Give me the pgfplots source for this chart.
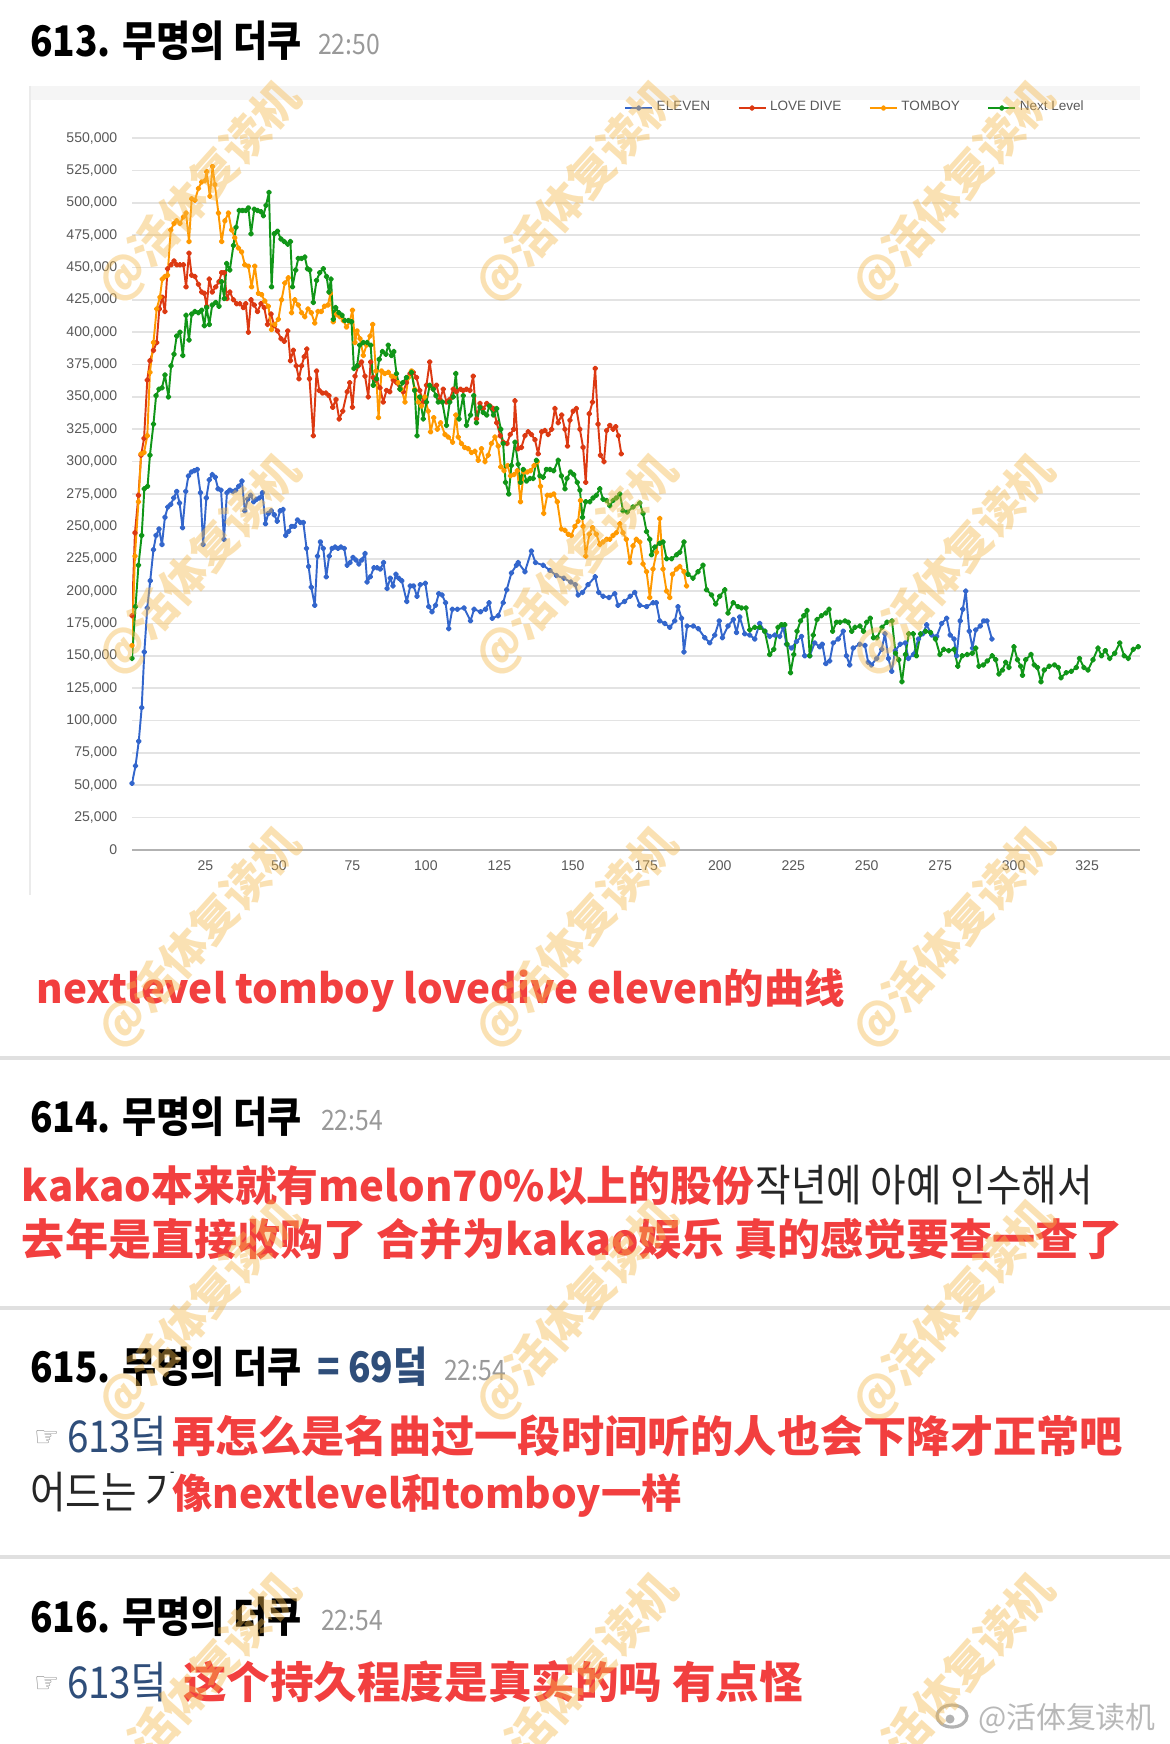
\documentclass[border=0pt]{standalone}
\usepackage{fontspec}
\usepackage{pgfplots}
\pgfplotsset{compat=1.18}
\setmainfont{Liberation Sans}
\newfontfamily\kr[FakeStretch=0.88]{Noto Sans CJK KR}
\newfontfamily\zh{Noto Sans CJK SC}
\newfontfamily\sym{DejaVu Sans}
\definecolor{cEleven}{HTML}{3366CC}
\definecolor{cLove}{HTML}{DC3912}
\definecolor{cTom}{HTML}{FF9900}
\definecolor{cNext}{HTML}{109618}
\definecolor{redtxt}{HTML}{F23F3F}
\definecolor{navy}{HTML}{2F4E7A}
\definecolor{wm}{HTML}{F5B94A}
\newcommand{\fs}[1]{\fontsize{#1}{#1}\selectfont}
\begin{document}
\begin{tikzpicture}
\path[use as bounding box, fill=white] (0,0) rectangle (117mm,-174.4mm);
\begin{scope}[x=0.1mm,y=-0.1mm]
\fill[black!4] (30,86) rectangle (1140,100);
\draw[black!8, line width=0.4pt] (30,86) -- (30,895);
\end{scope}
\begin{axis}[
 at={(13.2mm,-85mm)}, anchor=south west,
 scale only axis, width=100.8mm, height=71.2mm,
 xmin=0, xmax=343, ymin=0, ymax=550,
 axis line style={draw=none},
 ymajorgrids, grid style={draw=black!11, line width=0.45pt},
 major tick length=0pt,
 xtick={25,50,...,325},
 ytick={0,25,...,550},
 yticklabels={0,{25,000},{50,000},{75,000},{100,000},{125,000},{150,000},{175,000},{200,000},{225,000},{250,000},{275,000},{300,000},{325,000},{350,000},{375,000},{400,000},{425,000},{450,000},{475,000},{500,000},{525,000},{550,000}},
 tick label style={font=\fs{4}, text=black!65},
 /pgf/number format/assume math mode=true,
 yticklabel style={anchor=east, inner sep=0pt, xshift=-1.4mm},
 xticklabel style={anchor=north, inner sep=0pt, yshift=-1.0mm},
 every axis plot/.append style={line width=0.55pt, line join=round},
 legend style={at={(axis description cs:0.718,1.042)}, anchor=center, draw=none, fill=none,
   font=\fs{3.85}, text=black!65, legend columns=4,
   /tikz/every even column/.append style={column sep=2.4mm}, inner sep=0pt, nodes={inner sep=0.35mm}},
 legend image code/.code={\draw[#1, mark repeat=2, mark phase=2] plot coordinates {(0mm,0mm) (1.35mm,0mm) (2.7mm,0mm)};},
]
\draw[black!30, line width=0.6pt] (axis cs:0,0) -- (axis cs:343,0);
\addplot[cEleven, mark=*, mark size=0.55pt, mark options={solid}] coordinates {
(0,51.5)(1.2,65)(2.3,84)(3.3,110)(4.2,153)(5.2,187)(6.2,208)(7.3,232)(8.2,243)(9.2,248)(10.2,236)(11.2,257)(12.2,265)(13.2,267)(14.2,272)(15.2,277)(16.2,268)(17.2,249)(18.3,277)(19.2,289)(20.2,292)(21.2,293)(22.2,294)(23.3,276)(24.2,236)(25.3,272)(26.3,286)(27.3,290)(28.3,288)(29.3,279)(30.3,278)(31.3,240)(32.3,276)(33.3,278)(34.3,277)(35.3,278)(36.3,281)(37.4,285)(38.4,262)(39.4,271)(40.4,274)(41.4,269)(42.4,271)(43.4,272)(44.4,276)(45.4,252)(46.4,260)(47.4,262)(48.4,259)(49.4,254)(50.4,262)(51.4,263)(52.3,243)(53.3,246)(54.3,250)(55.3,250)(56.3,255)(57.3,253)(58.3,253)(59.4,233)(60.1,219)(61,203)(62.2,189)(63.1,227)(64.1,238)(65.1,233)(66.1,211)(67.1,227)(68.1,233)(69.1,234)(70.1,233)(71.1,234)(72.2,233)(73.2,220)(74.2,222)(75.2,226)(76.2,224)(77.2,221)(78.2,224)(79.3,229)(80,207)(81.1,211)(82.3,218)(83.4,218)(84.5,217)(85.6,222)(86.8,202)(87.9,210)(88.8,204)(89.8,213)(90.8,210)(91.8,208)(93.5,192)(94.7,204)(95.8,204)(97,196)(98.1,205)(99.8,206)(101,188)(102.1,184)(103.3,189)(104.4,198)(105.5,197)(106.7,191)(107.8,171)(109,186)(110.7,186)(113,187)(115.2,177)(116.4,186)(118.6,184)(120.3,186)(121.5,191)(122.6,179)(124.6,181)(126.3,191)(127.5,201)(129.1,214)(130.8,220)(131.4,222)(133.7,215)(135.9,231)(137.3,222)(139.9,220)(142.2,216)(144.4,212)(146.9,210)(149.3,207)(150.8,205)(151.8,197)(153.3,199)(155.2,205)(157.6,211)(158.8,199)(160.3,196)(162.3,195)(164.3,198)(165.4,189)(167.6,192)(169.5,196)(171.1,199)(172.8,189)(175.1,188)(177.3,191)(178.4,191)(179.6,177)(181.3,175)(183,172)(184.7,177)(185.8,188)(187,179)(187.8,153)(188.9,173)(191,173)(192.7,171)(194.9,164)(196.6,160)(198.3,166)(199.8,177)(200.9,164)(202.8,173)(204.6,178)(205.7,168)(206.8,180)(208.5,167)(210.2,166)(211.9,163)(213.6,175)(215.3,169)(217,165)(218.7,166)(220.4,165)(221.6,172)(222.7,159)(224.4,156)(226.1,161)(227.8,165)(228.9,150)(230.6,150)(232.3,160)(234,157)(234.9,159)(236.1,144)(237.4,146)(238.6,160)(240.3,163)(242,169)(243.1,150)(244.2,143)(245.4,156)(247.6,159)(249.4,158)(250.5,145)(251.6,143)(253.4,148)(255.1,155)(256.2,167)(257.4,148)(258.5,138)(259.7,154)(261.4,159)(263.1,160)(264.2,148)(265.9,151)(267.6,163)(269.1,167)(270.4,174)(272.1,166)(273.8,165)(275.5,175)(277.2,179)(278.4,166)(279.7,163)(280.6,150)(281.8,177)(282.7,186)(283.7,200)(284.9,169)(286,156)(287.1,170)(288.6,173)(289.8,177)(290.9,177)(292.6,163)};
\addlegendentry{ELEVEN}
\addplot[cLove, mark=*, mark size=0.55pt, mark options={solid}] coordinates {
(0,181)(1.0,245)(2.2,274)(3.1,305)(4.1,318)(5.2,363)(6.1,378)(7.3,386)(8.4,392)(9.3,418)(10.3,427)(11.2,416)(12.1,449)(13.3,452)(14.3,455)(15.2,452)(16.3,452)(17.5,452)(18.4,435)(19.4,461)(20.3,444)(21.4,443)(22.6,437)(23.7,431)(24.6,430)(25.4,420)(26.3,441)(27.3,431)(28.5,435)(29.6,439)(30.5,446)(31.4,446)(32.3,426)(33.3,431)(34.5,425)(35.6,422)(36.7,422)(37.9,419)(38.7,422)(39.6,400)(40.5,425)(41.6,421)(42.7,416)(43.9,422)(45,419)(46.1,406)(47.3,414)(48.4,405)(49.5,401)(50.7,395)(51.8,393)(53,401)(53.9,378)(54.9,386)(55.9,374)(56.8,364)(57.7,374)(58.6,381)(59.5,387)(60.4,364)(61.7,320)(62.8,370)(63.7,355)(64.8,353)(66,353)(67,351)(68.3,342)(69.4,348)(70.5,333)(71.7,339)(73.2,354)(74.1,361)(75,342)(75.9,366)(77,374)(78.1,377)(79.3,366)(80.4,350)(81.2,377)(82.1,365)(83.2,363)(84.4,357)(85.5,346)(86.6,355)(87.7,354)(88.9,363)(90,361)(91.2,356)(92.3,354)(93.4,361)(94.6,368)(95.7,369)(96.8,365)(97.9,355)(99.1,346)(100.2,359)(101.3,377)(102.5,356)(103.6,359)(104.8,348)(105.9,356)(107,346)(108.1,348)(109.3,356)(110.4,354)(111.8,356)(112.7,355)(113.8,356)(115,355)(116.1,366)(117.2,333)(118.4,345)(119.5,341)(120.7,345)(121.8,343)(123,341)(124.1,330)(125.3,320)(126.3,315)(127.6,314)(128.7,321)(129.9,325)(130.3,347)(131.4,310)(132.5,311)(133.7,320)(134.8,323)(135.9,321)(137.1,317)(138.2,306)(139.4,323)(140.5,324)(141.6,321)(142.8,325)(143.9,341)(145,330)(146.2,336)(147.3,325)(148.2,312)(149,332)(150.1,339)(151.2,341)(152.4,325)(153.5,311)(154.4,284)(155.6,337)(156.7,346)(157.6,372)(158.6,329)(159.4,305)(160.6,300)(161.5,324)(162.6,328)(163.7,325)(164.6,327)(165.5,320)(166.5,306)};
\addlegendentry{LOVE DIVE}
\addplot[cTom, mark=*, mark size=0.55pt, mark options={solid}] coordinates {
(0,158)(1.0,227)(2.2,269)(3.1,306)(4.1,307)(5.2,320)(6.1,369)(7.3,392)(8.4,418)(9.5,427)(10.3,441)(11.2,443)(12.1,444)(13.2,479)(14.3,484)(15.2,486)(16.3,484)(17.5,489)(18.4,492)(19.4,470)(20.3,503)(21.4,502)(22.6,511)(23.7,516)(24.8,517)(25.4,524)(26.5,505)(27.4,528)(28.2,514)(29.4,492)(30.5,470)(31.6,486)(32.8,492)(33.9,479)(35,473)(36.2,465)(37.3,462)(38.4,452)(39.6,451)(40.7,435)(41.8,451)(43,430)(44.1,429)(45.2,424)(46.4,420)(47.5,402)(48.6,406)(49.8,410)(50.9,425)(52,438)(53.2,442)(54.3,415)(55.4,425)(56.6,421)(57.7,415)(58.8,412)(59.9,418)(61,415)(62.2,407)(63.3,416)(64.4,416)(65.5,420)(66.7,421)(67.5,430)(68.5,408)(69.6,414)(70.7,412)(71.9,409)(73,404)(74.1,408)(75,417)(75.9,392)(76.6,401)(77.6,395)(78.7,382)(79.8,390)(81,397)(81.9,406)(83,370)(83.9,334)(84.9,370)(86,368)(87.2,369)(88.3,366)(89.4,366)(90.6,361)(91.7,356)(92.9,346)(94,365)(95.1,370)(96.2,356)(97.4,346)(98.5,343)(99.6,350)(100.8,339)(101.6,323)(102.7,334)(103.9,325)(105,330)(106.5,321)(107.6,319)(109.1,315)(110.2,336)(111,319)(112.1,314)(113.2,311)(114.4,310)(115.5,307)(116.7,308)(117.8,301)(118.9,310)(120.1,300)(121.2,305)(122.3,314)(123.5,319)(124.6,312)(125.5,296)(126.6,293)(127.8,297)(128.8,289)(130,290)(131.1,293)(132.2,269)(133.3,292)(134.5,292)(135.6,293)(136.8,297)(137.9,300)(139,281)(140.1,260)(141.3,274)(142.4,274)(143.5,275)(144.7,269)(146.1,248)(147.3,247)(148.4,244)(149.5,243)(150.7,250)(151.8,254)(152.6,270)(153.5,250)(154.4,227)(155.6,244)(156.7,249)(158,244)(159.2,236)(160.3,238)(161.5,240)(162.6,240)(163.7,243)(164.8,245)(166,252)(167.1,245)(168.2,240)(169.4,222)(170.5,235)(171.6,240)(172.8,238)(173.9,221)(175.1,215)(176.2,195)(177.3,217)(178.5,230)(179.6,256)(180.7,217)(181.9,200)(183,195)(183.9,213)(185.3,217)(186.4,219)(187.8,215)(188.7,204)};
\addlegendentry{TOMBOY}
\addplot[cNext, mark=*, mark size=0.55pt, mark options={solid}] coordinates {
(0,148)(1.2,188)(2.2,220)(3.3,243)(4.2,279)(5.3,281)(6.1,305)(7.3,329)(8.2,351)(9.2,356)(10.2,357)(11.2,367)(12.4,350)(13.3,374)(14.3,383)(15.2,397)(16.3,400)(17.3,382)(18.4,413)(19.4,394)(20.3,414)(21.4,416)(22.6,415)(23.7,417)(24.6,405)(25.4,419)(26.3,406)(27.3,421)(28.5,423)(29.6,420)(30.5,439)(31.4,426)(32.2,453)(33.3,448)(34.5,467)(35.4,481)(36.5,494)(37.6,494)(38.7,494)(39.6,496)(40.5,476)(41.6,495)(42.7,494)(43.9,493)(44.7,490)(45.6,498)(46.6,508)(47.5,435)(48.4,476)(49.5,478)(50.7,472)(51.8,470)(53,468)(53.9,470)(54.6,435)(55.7,448)(56.6,457)(57.7,457)(58.8,458)(59.7,449)(60.5,448)(61.7,423)(62.8,440)(63.9,446)(65.1,449)(66.2,443)(67,431)(67.7,441)(68.5,410)(69.3,419)(70.4,415)(71.5,413)(72.4,409)(73.6,409)(74.7,408)(75.5,372)(76.6,374)(77.5,390)(78.7,392)(80,392)(81.2,390)(82.1,359)(83.2,364)(84.1,379)(85.2,385)(86.4,383)(87.2,390)(88.3,382)(89.1,385)(90,368)(91.2,356)(92.1,361)(93.4,365)(95.1,369)(96.2,355)(97,320)(97.9,350)(99.1,333)(100.2,346)(101.3,359)(102.5,356)(103.4,351)(104.2,346)(105.6,346)(107,328)(108.1,346)(109.3,350)(110.2,368)(111.3,333)(112.7,351)(113.8,328)(115.2,336)(116.3,351)(117.2,330)(118.4,342)(119.5,338)(120.7,336)(121.6,343)(123,336)(124.1,341)(125.5,325)(126.3,314)(127.1,284)(128.2,275)(129.1,297)(130.3,315)(131.4,298)(132.2,284)(133.1,294)(134.2,285)(135.4,287)(136.5,287)(137.6,301)(138.8,289)(139.9,288)(141,294)(142.2,294)(143.5,293)(145,301)(146.1,289)(147.3,279)(148,287)(149.2,292)(150.3,290)(151.5,284)(152.4,278)(153.3,257)(154.4,269)(155.8,269)(156.9,272)(158,274)(159.2,279)(160.3,271)(161.5,270)(162.6,266)(163.7,270)(164.8,272)(166,275)(167.1,262)(168.5,261)(170.5,265)(172.8,268)(173.9,260)(175.1,246)(176.2,240)(176.8,228)(177.9,234)(179.6,237)(180.7,238)(181.9,225)(183.6,225)(185.3,228)(186.4,230)(187.8,238)(189.2,213)(190.9,210)(192.6,215)(194.3,220)(195.5,201)(197.2,197)(198.6,190)(200,196)(201.7,201)(202.8,183)(204.6,191)(206.2,188)(207.4,187)(208.9,187)(210.2,170)(211.9,172)(213.6,172)(215.3,169)(217,151)(218.4,155)(219.8,172)(221,174)(222.1,174)(222.9,159)(224.1,137)(225.2,151)(226.3,169)(227.5,177)(228.6,181)(229.7,185)(230.6,150)(231.8,166)(233.1,178)(234.6,181)(236.1,183)(237.2,186)(238.4,169)(239.7,176)(240.9,176)(242.6,177)(243.7,176)(244.9,169)(246,172)(247.7,173)(248.9,169)(250,176)(251.2,179)(252.3,164)(253.5,164)(255.2,172)(256.9,176)(258.6,177)(259.8,152)(260.9,147)(262,130)(263.2,151)(264.3,167)(265.8,167)(266.9,150)(268.3,167)(270,169)(271.7,168)(273.4,163)(274.9,151)(276.2,155)(277.9,154)(279.7,155)(281,142)(282.5,150)(284.2,151)(285.9,152)(287.1,156)(288.2,142)(289.7,143)(291,146)(292.7,150)(293.9,147)(295,136)(296.2,139)(297.3,145)(298.4,141)(300.1,157)(301.3,147)(302.4,142)(303,135)(304.1,147)(305.9,151)(307,143)(308.1,141)(309.3,130)(310.4,139)(312.1,142)(313.9,143)(315.2,141)(316.1,133)(317.9,137)(319.6,138)(321.3,141)(322.4,148)(323.9,141)(325.3,139)(327,147)(328.7,156)(329.9,150)(331.2,154)(332.7,148)(334.4,152)(336.1,160)(337.6,150)(339,148)(340.7,155)(342.4,157)};
\addlegendentry{Next Level}
\end{axis}
\begin{scope}[x=0.1mm,y=-0.1mm, every node/.style={inner sep=0pt, outer sep=0pt}]
% post 613
\node[anchor=base west, font=\kr\bfseries\fs{12}] at (30,57) {613. 무명의 더쿠};
\node[anchor=base west, font=\kr\fs{8}, text=black!40] at (318,55) {22:50};
\node[anchor=base west, font=\zh\bfseries\fs{11.5}, text=redtxt] at (37,1003) {nextlevel tomboy lovedive eleven的曲线};
\fill[black!12] (0,1056) rectangle (1170,1060);
% post 614
\node[anchor=base west, font=\kr\bfseries\fs{12}] at (30,1132) {614. 무명의 더쿠};
\node[anchor=base west, font=\kr\fs{8}, text=black!40] at (321,1130) {22:54};
\node[anchor=base east, font=\kr\fs{12.5}, text=black!85] at (1093,1201) {작년에 아예 인수해서};
\node[anchor=base west, fill=white, font=\zh\bfseries\fs{11.9}, text=redtxt] at (22,1201) {kakao本来就有melon70\%以上的股份};
\node[anchor=base west, font=\zh\bfseries\fs{12.25}, text=redtxt] at (22,1255) {去年是直接收购了 合并为kakao娱乐 真的感觉要查一查了};
\fill[black!12] (0,1306) rectangle (1170,1310);
% post 615
\node[anchor=base west, font=\kr\bfseries\fs{12}] at (30,1382) {615. 무명의 더쿠};
\node[anchor=base west, font=\kr\bfseries\fs{12}, text=navy] at (317,1382) {= 69덬};
\node[anchor=base west, font=\kr\fs{8}, text=black!40] at (444,1380) {22:54};
\node[anchor=base west, font=\sym\fs{8}, text=black!45] at (34,1446) {☞};
\node[anchor=base west, font=\kr\fs{12.5}, text=navy] at (67,1452) {613덬};
\node[anchor=base west, font=\zh\bfseries\fs{12.3}, text=redtxt] at (172,1452) {再怎么是名曲过一段时间听的人也会下降才正常吧};
\node[anchor=base west, font=\kr\fs{12.5}, text=black!85] at (30,1508) {어드는 가};
\node[anchor=base west, fill=white, inner xsep=0.7mm, font=\zh\bfseries\fs{11.5}, text=redtxt] at (165,1508) {像nextlevel和tomboy一样};
\fill[black!12] (0,1555) rectangle (1170,1559);
% post 616
\node[anchor=base west, font=\kr\bfseries\fs{12}] at (30,1632) {616. 무명의 더쿠};
\node[anchor=base west, font=\kr\fs{8}, text=black!40] at (321,1630) {22:54};
\node[anchor=base west, font=\sym\fs{8}, text=black!45] at (34,1692) {☞};
\node[anchor=base west, font=\kr\fs{12.5}, text=navy] at (67,1698) {613덬};
\node[anchor=base west, font=\zh\bfseries\fs{12.4}, text=redtxt] at (183,1698) {这个持久程度是真实的吗 有点怪};
% weibo mark
\draw[black!30, line width=0.9pt] (952,1716) ellipse (15 and 11);
\fill[black!30] (950,1719) circle (4.5);
\node[anchor=base west, font=\zh\fs{8.5}, text=black!28] at (978,1728) {@活体复读机};
% watermarks
\foreach \cx in {200,577,954}{
 \foreach \cy in {192,565,938,1311,1684}{
  \node[rotate=48, font=\zh\bfseries\fs{13}, text=wm, opacity=0.42] at (\cx,\cy) {@活体复读机};
 }
}
\end{scope}
\end{tikzpicture}
\end{document}
